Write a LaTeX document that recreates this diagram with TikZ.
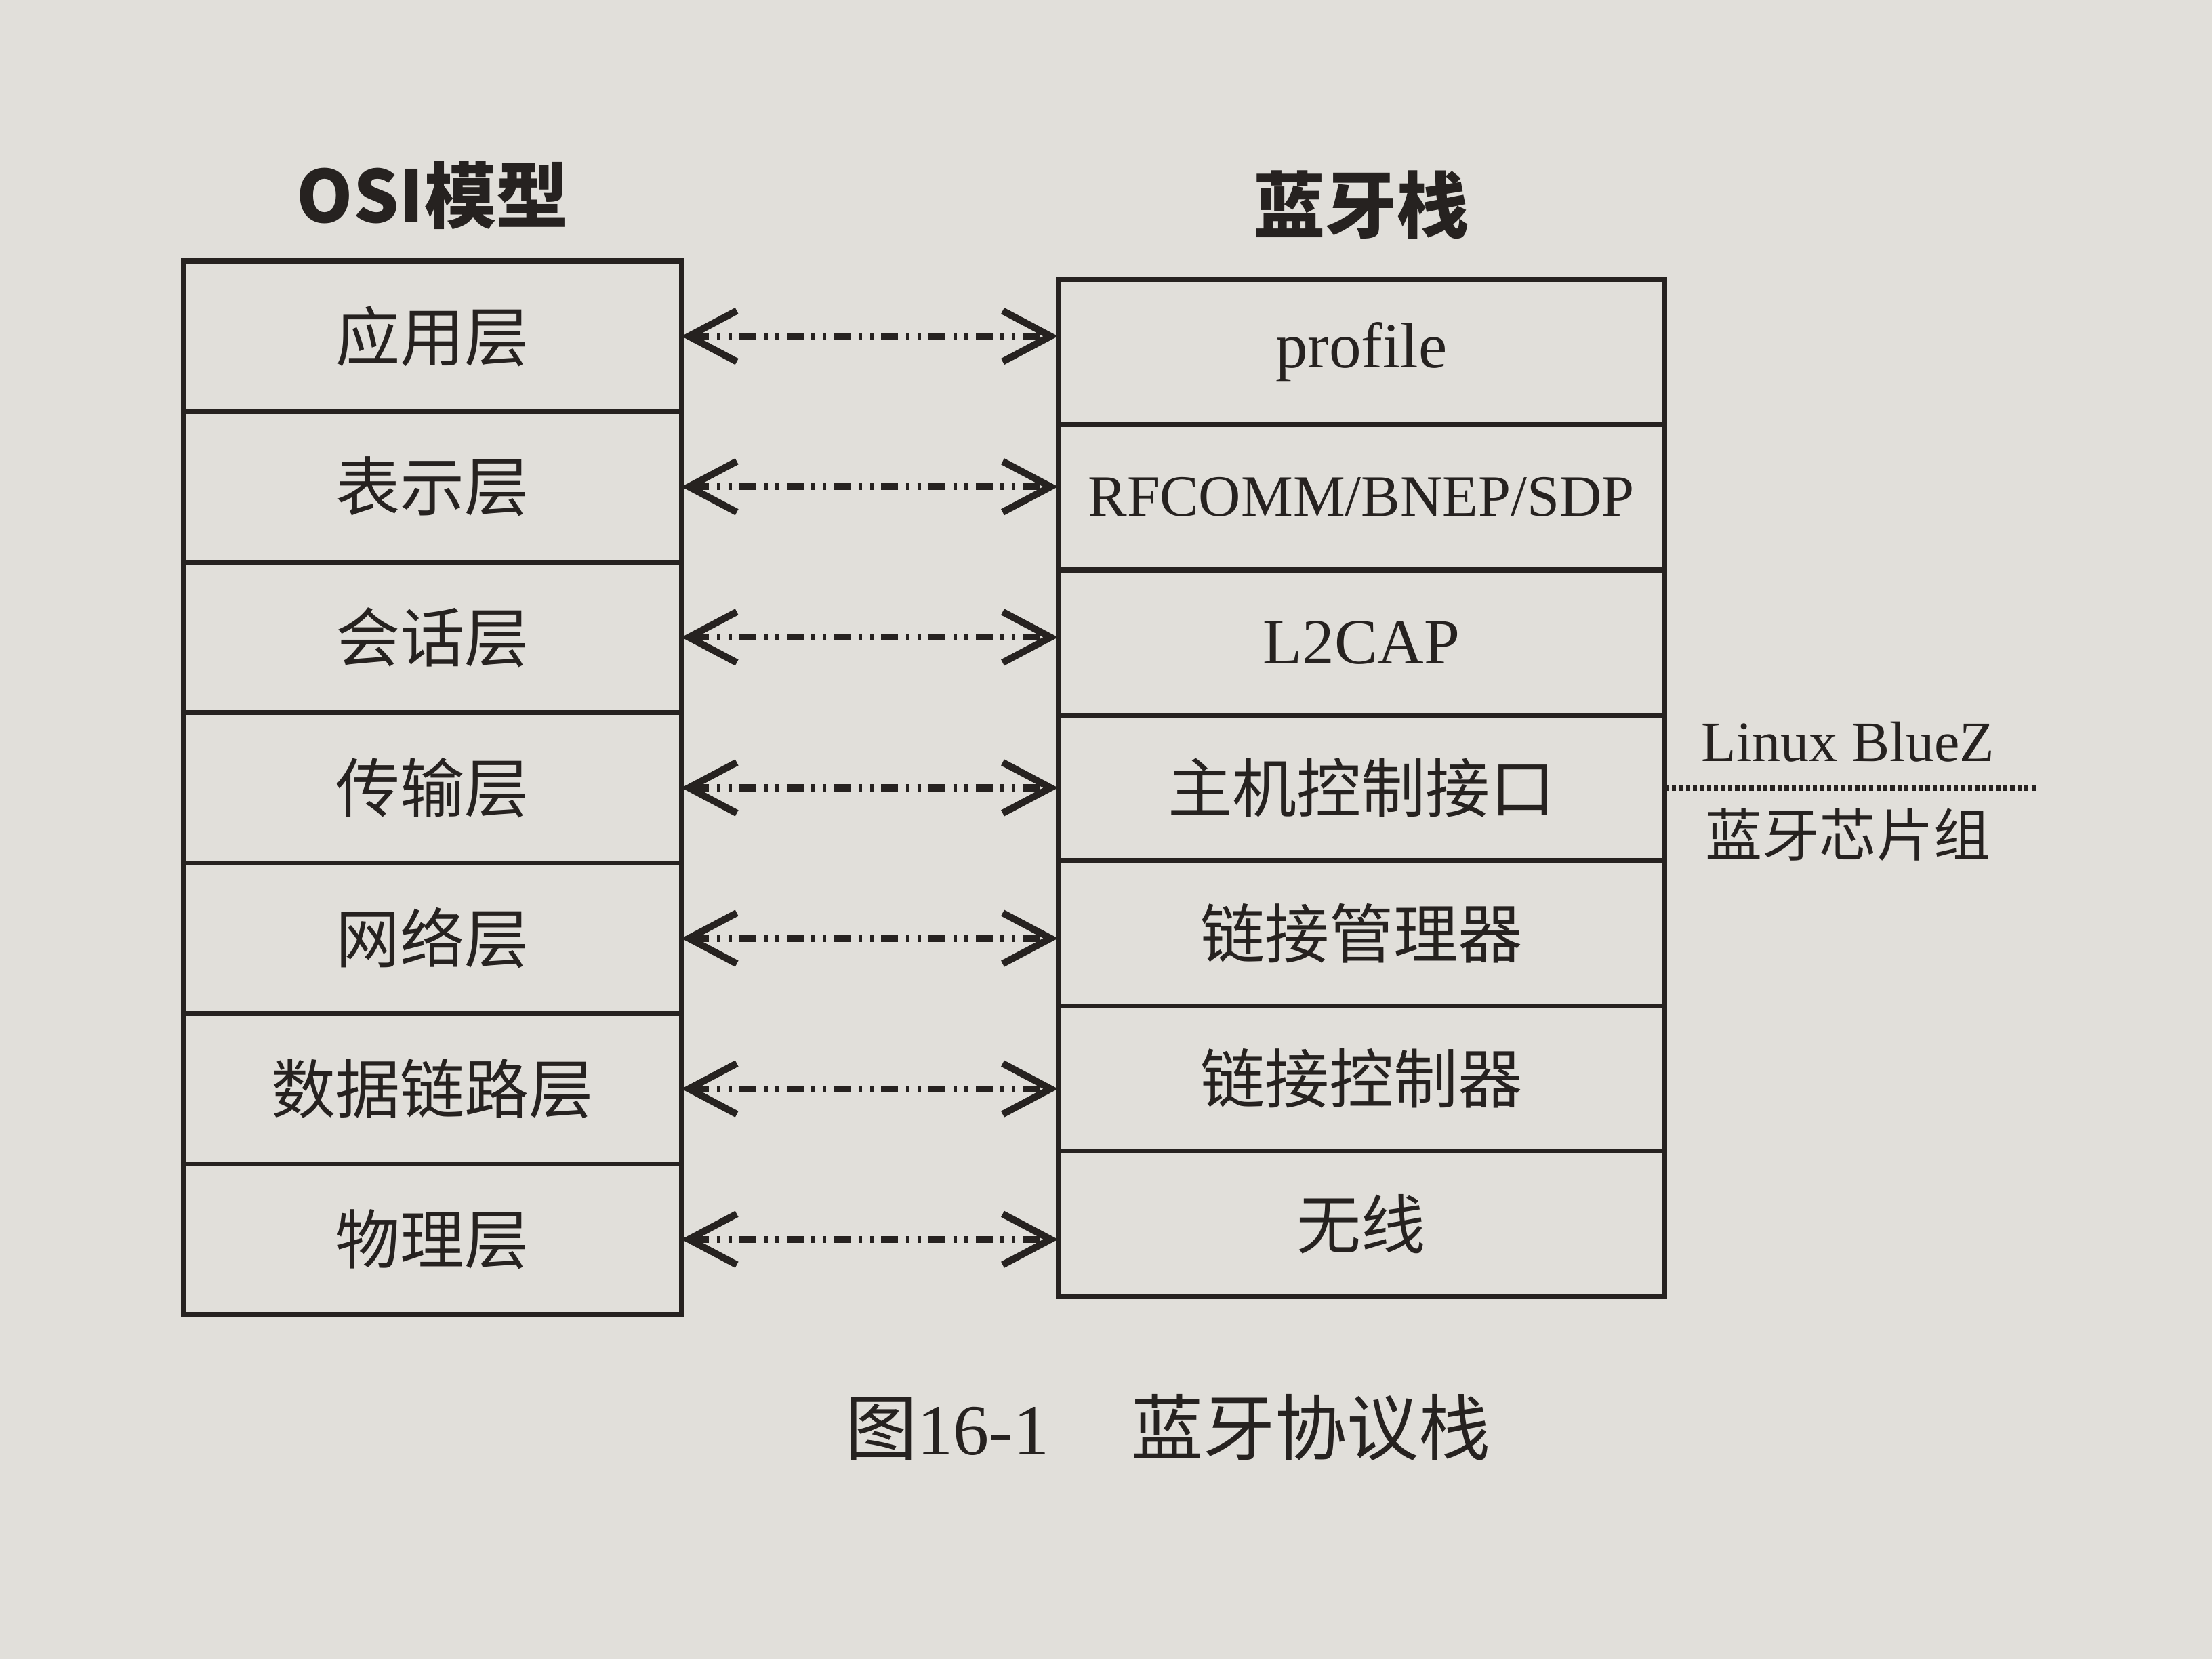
\documentclass[tikz,border=0pt]{standalone}
\usepackage{fontspec}
\setmainfont{Liberation Serif}
\newfontfamily\cjk{Noto Sans CJK SC}
\usetikzlibrary{arrows.meta,positioning}
\definecolor{paper}{RGB}{225,223,218}
\definecolor{ink}{RGB}{38,34,32}

\begin{document}
\begin{tikzpicture}[>={Straight Barb[length=3.4mm,width=3.6mm]},
        osi/.style={draw=ink,line width=1pt,outer sep=0pt,
                    minimum width=3.53cm,minimum height=1.067cm,
                    font=\cjk\fontsize{13}{15}\selectfont,text=ink},
        bt/.style={draw=ink,line width=1pt,outer sep=0pt,inner xsep=0pt,
                   minimum width=4.3cm,minimum height=1.03cm,
                   font=\fontsize{13}{15}\selectfont,text=ink},
        head/.style={font=\cjk\bfseries\fontsize{14.5}{16}\selectfont,text=ink},
        side/.style={font=\fontsize{11.5}{13}\selectfont,text=ink},
        link/.style={<->,ink,line width=1.4pt,
                     dash pattern=on 1.2mm off 0.55mm on 0.25mm off 0.55mm on 0.25mm off 0.55mm}]
      \fill[paper] (0,0) rectangle (15.68,11.76);
      \useasboundingbox (0,0) rectangle (15.68,11.76);
      % OSI column
      \node[osi,anchor=north west] (osi1) at (1.30,9.91) {应用层};
      \node[osi,below=0pt of osi1] (osi2) {表示层};
      \node[osi,below=0pt of osi2] (osi3) {会话层};
      \node[osi,below=0pt of osi3] (osi4) {传输层};
      \node[osi,below=0pt of osi4] (osi5) {网络层};
      \node[osi,below=0pt of osi5] (osi6) {数据链路层};
      \node[osi,below=0pt of osi6] (osi7) {物理层};
      \node[head,above=0.1cm of osi1] (osihead) {OSI模型};
      % bluetooth stack
      \node[bt,anchor=north west] (bt1) at (7.50,9.78) {profile};
      \node[bt,below=0pt of bt1,font=\fontsize{11.8}{14}\selectfont] (bt2) {RFCOMM/BNEP/SDP};
      \node[bt,below=0pt of bt2] (bt3) {L2CAP};
      \node[bt,below=0pt of bt3] (bt4) {\cjk 主机控制接口};
      \node[bt,below=0pt of bt4] (bt5) {\cjk 链接管理器};
      \node[bt,below=0pt of bt5] (bt6) {\cjk 链接控制器};
      \node[bt,below=0pt of bt6] (bt7) {\cjk 无线};
      \node[head,above=0.16cm of bt1] (bthead) {蓝牙栈};
      % layer links
      \draw[link] (osi1.east) -- (osi1.east -| bt1.west);
      \draw[link] (osi2.east) -- (osi2.east -| bt2.west);
      \draw[link] (osi3.east) -- (osi3.east -| bt3.west);
      \draw[link] (osi4.east) -- (osi4.east -| bt4.west);
      \draw[link] (osi5.east) -- (osi5.east -| bt5.west);
      \draw[link] (osi6.east) -- (osi6.east -| bt6.west);
      \draw[link] (osi7.east) -- (osi7.east -| bt7.west);
      % host / chip split
      \path (bt4.east) ++(1.3,0) coordinate (sepmid) ++(1.35,0) coordinate (sepend);
      \draw[ink,line width=1.1pt,dash pattern=on 0.3mm off 0.2mm] (bt4.east) -- (sepend);
      \node[side,above=0.06cm of sepmid] (bluez) {Linux BlueZ};
      \node[side,below=0.02cm of sepmid] (chip) {\cjk 蓝牙芯片组};
      % caption
      \node[font=\fontsize{14.5}{16}\selectfont,text=ink] (caption) at (8.28,1.64)
        {{\cjk 图}16-1\hspace{0.58cm}{\cjk 蓝牙协议栈}};
\end{tikzpicture}
\end{document}
